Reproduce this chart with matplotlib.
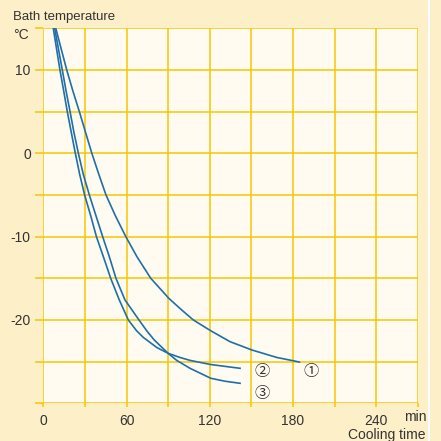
import numpy as np
import matplotlib
matplotlib.use("Agg")
import matplotlib.pyplot as plt

plt.rcParams['font.family'] = ['Liberation Sans', 'DejaVu Sans', 'Noto Sans CJK JP']

# curve data (cooling time in min, bath temperature in degC)
t1 = [9.0, 16.9, 21.3, 26.0, 30.5, 35.0, 40.0, 45.2, 52.0, 59.5, 67.5, 77.5, 90.5, 99.8,
      108.2, 120.8, 134.6, 150.4, 168.4, 180.4, 184.7]
T1 = [15, 10, 7.5, 5, 2.5, 0, -2.5, -5, -7.5, -10, -12.4, -15, -17.4, -18.8,
      -20, -21.3, -22.6, -23.6, -24.5, -24.9, -25.05]

t2 = [7.2, 12.0, 14.7, 17.3, 20.2, 23.1, 26.2, 29.8, 34.2, 38.3, 43.3, 48.6, 54.8, 61.3,
      67.3, 72.2, 81.8, 90.0, 98.6, 105.8, 120.8, 141.9]
T2 = [15, 10, 7.5, 5, 2.5, 0, -2.5, -5, -7.5, -10, -12.4, -15, -17.6, -20,
      -21.3, -22.1, -23.3, -24.0, -24.5, -24.85, -25.35, -25.8]

t3 = [8.2, 13.7, 16.4, 19.3, 22.1, 25.3, 28.8, 33.2, 38.0, 42.8, 47.6, 52.4, 58.9, 69.0,
      74.6, 80.0, 90.0, 96.2, 105.8, 120.8, 131.0, 141.9]
T3 = [15, 10, 7.5, 5, 2.5, 0, -2.5, -5, -7.5, -10, -12.4, -15, -17.6, -20,
      -21.3, -22.4, -24.0, -24.85, -25.8, -27.0, -27.35, -27.6]

xticks = [0, 30, 60, 90, 120, 150, 180, 210, 240, 270]
xlabels = ['0', '', '60', '', '120', '', '180', '', '240', '']
yticks = [-30, -25, -20, -15, -10, -5, 0, 5, 10, 15]
ylabels = ['', '', '-20', '', '-10', '', '0', '', '10', '']

bg_out = '#fdefc8'
bg_in = '#fffbf1'
gold = '#f7c600'
blue = '#1f6fa8'
txt = '#333333'

fig = plt.figure(figsize=(4.41, 4.41), dpi=100, facecolor=bg_out)
ax = fig.add_axes([43.3/441, 1-403.3/441, (417.7-43.3)/441, (403.3-28.3)/441])
ax.set_facecolor(bg_in)
ax.set_xlim(0, 270)
ax.set_ylim(-30, 15)
for s in ax.spines.values():
    s.set_visible(False)

ax.set_xticks(xticks)
ax.set_xticklabels(xlabels)
ax.set_yticks(yticks)
ax.set_yticklabels(ylabels)
ax.grid(True, color=gold, linewidth=1.1)
ax.tick_params(axis='y', length=6, width=1.1, color=gold, pad=3, labelsize=10, labelcolor=txt)
ax.tick_params(axis='x', length=3, width=1.1, color=gold, pad=5, labelsize=10, labelcolor=txt)
ax.set_axisbelow(True)

ax.plot(t1, T1, color=blue, lw=1.2)
ax.plot(t2, T2, color=blue, lw=1.2)
ax.plot(t3, T3, color=blue, lw=1.2)

cfam = ['Noto Sans CJK JP', 'DejaVu Sans']
ax.text(192.8, -26.2, '①', fontsize=11, color=txt, va='center', ha='center', family=cfam)
ax.text(157.5, -26.2, '②', fontsize=11, color=txt, va='center', ha='center', family=cfam)
ax.text(157.5, -28.8, '③', fontsize=11, color=txt, va='center', ha='center', family=cfam)

fig.text(13/441, 1-17/441, 'Bath temperature', fontsize=9.5, color=txt, va='center', ha='left')
fig.text(13/441, 1-35/441, '°C', fontsize=10, color=txt, va='center', ha='left')
fig.text(415/441, 1-417/441, 'min', fontsize=10, color=txt, va='center', ha='center')
fig.text(425/441, 1-435/441, 'Cooling time', fontsize=10, color=txt, va='center', ha='right')

# thin white strip near the right edge
fig.add_artist(plt.Line2D([428.5/441, 428.5/441], [0, 1], color='white', lw=1.5))

fig.savefig('out.png', dpi=100, facecolor=bg_out)
